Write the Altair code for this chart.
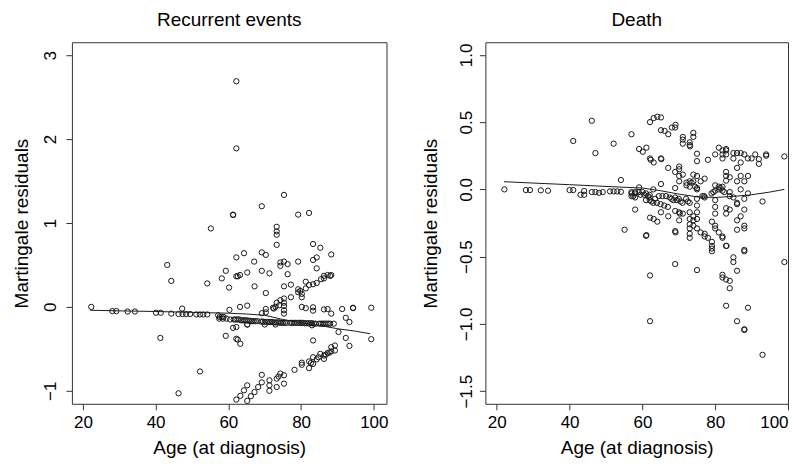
import altair as alt
import pandas as pd

FONT = "Liberation Sans"

# ---------------- Recurrent events panel ----------------
rec_iso_age = [22.3, 28.1, 29.2, 32.3, 34.3, 40.1, 41.4, 41.3, 43.2, 44.3, 44.3, 46.3, 47.4, 48.4, 49.5, 47.3, 46.3,
               51.2, 52.2, 53.1, 54.2, 52.2, 54.2, 55.2,
               57.2, 57.6, 58.2, 58.7, 58.2, 59.3, 59.3, 60.2, 60.3, 61.3, 61.3, 61.3,
               62.2, 62.2, 62.2, 62.2, 62.6, 62.2, 62.2, 62.6, 63.3, 63.2, 63.2, 64.3, 65.2, 65.2, 65.2,
               67.1, 67.2, 69.2, 69.2, 69.2, 70.3, 70.3, 71.3, 73.3, 73.3, 73.3, 73.3, 74.3, 74.3, 75.3, 75.3, 75.3,
               76.3, 76.3, 77.2, 79.2, 79.2, 82.2, 83.3, 83.3, 84.3, 84.3, 85.3, 88.3, 90.3, 91.3, 92.3, 92.3,
               93.3, 93.3, 94.3, 94.3, 99.3, 99.3]
rec_iso_res = [0.0, -0.05, -0.05, -0.055, -0.055, -0.07, -0.07, -0.37, 0.50, 0.31, -0.08, -0.085, -0.085, -0.085, -0.085, -0.02, -1.03,
               -0.09, -0.09, -0.09, -0.09, -0.77, 0.28, 0.935,
               -0.10, -0.12, -0.12, -0.12, 0.34, 0.43, -0.345, 0.23, -0.035, 1.10, 1.095, -0.25,
               2.69, 1.89, 0.59, 0.365, 0.365, -0.24, -0.38, -0.39, -0.44, 0.0, 0.38, 0.64, 0.41, 0.015, -0.21,
               0.54, 0.245, 1.20, 0.65, 0.43, 0.62, 0.165, 0.40, 0.955, 0.90, 0.86, 0.74, 0.53, 0.49, 1.335, 0.54, 0.245,
               0.51, 0.39, 0.265, 1.10, 0.54, 1.12, 0.75, 0.56, 0.59, 0.46, 0.705, 0.625, -0.30, -0.025, -0.37, -0.13,
               -0.465, -0.18, -0.015, -0.01, -0.01, -0.385]

rec_up_age = [72.3, 73.3, 74.3, 75.3, 75.3, 75.3, 75.3, 75.3, 77.2, 79.2, 79.2, 80.2, 80.2, 81.3, 81.3, 82.2, 83.3,
              84.3, 86.3, 86.3, 87.3, 88.3, 88.0, 70.3, 70.3, 69.2, 80.2, 81.3, 83.3, 83.3, 86.3, 87.3, 88.3,
              72.5, 73.0, 74.0, 79.8, 85.5]
rec_up_res = [-0.01, 0.05, 0.08, 0.10, 0.05, 0.01, -0.04, -0.08, 0.115, 0.175, 0.21, 0.155, 0.115, 0.30, 0.22, 0.26, 0.27,
              0.285, 0.34, 0.37, 0.38, 0.38, 0.37, -0.025, -0.065, -0.075, 0.0, -0.015, -0.005, -0.045, -0.03, -0.025, -0.08,
              -0.02, 0.0, 0.02, 0.19, 0.33]

rec_band_age = [57.5, 58.5, 59.5, 60.5, 61.5, 62.0, 62.5, 63.0, 63.5, 64.0, 64.5, 65.0, 65.5, 66.0, 66.5, 67.0, 67.5,
                68.0, 69.0, 69.5, 70.0, 70.5, 71.0, 71.5, 72.0, 72.5, 73.0, 73.5, 74.0, 74.5, 75.0, 75.5, 76.0, 77.0,
                77.5, 78.0, 78.5, 79.0, 79.5, 80.0, 80.5, 81.0, 81.5, 82.0, 82.5, 83.0, 83.5, 84.0, 85.0, 85.5, 86.0,
                86.5, 87.0, 87.5, 88.0, 89.0, 65.2, 70.0, 73.0, 83.0]
rec_band_res = [-0.14, -0.14, -0.14, -0.15, -0.15, -0.15, -0.15, -0.15, -0.16, -0.16, -0.16, -0.16, -0.165, -0.165,
                -0.17, -0.17, -0.17, -0.17, -0.175, -0.175, -0.18, -0.18, -0.18, -0.18, -0.18, -0.185, -0.185, -0.185,
                -0.185, -0.19, -0.19, -0.19, -0.19, -0.19, -0.19, -0.19, -0.19, -0.19, -0.19, -0.19, -0.19, -0.195,
                -0.195, -0.195, -0.195, -0.195, -0.2, -0.2, -0.2, -0.2, -0.2, -0.2, -0.2, -0.2, -0.2, -0.2, -0.21,
                -0.21, -0.21, -0.22]

rec_low_age = [62.2, 63.3, 64.3, 65.2, 65.2, 66.2, 67.2, 68.2, 69.2, 69.2, 71.3, 71.3, 71.3, 73.3, 73.3, 74.3, 75.3,
               75.3, 78.2, 80.2, 80.2, 82.2, 82.2, 83.3, 83.3, 84.3, 85.3, 86.3, 86.3, 87.3, 88.3, 88.3, 89.3, 89.3,
               83.3, 73.8, 82.7, 84.8, 86.8, 87.8]
rec_low_res = [-1.105, -1.06, -0.995, -0.935, -1.12, -1.065, -1.015, -0.955, -0.90, -0.81, -0.935, -1.0, -0.875,
               -0.955, -0.855, -0.795, -0.815, -0.915, -0.75, -0.69, -0.665, -0.73, -0.65, -0.68, -0.60, -0.625,
               -0.56, -0.62, -0.58, -0.55, -0.53, -0.48, -0.52, -0.46, -0.40, -0.83, -0.67, -0.6, -0.57, -0.545]

rec_smooth_age = [22, 30, 40, 50, 60, 65, 70, 75, 80, 85, 90, 95, 99]
rec_smooth_res = [-0.04, -0.047, -0.055, -0.065, -0.075, -0.085, -0.10, -0.15, -0.19, -0.22, -0.26, -0.29, -0.32]

# ---------------- Death panel ----------------
d_iso_age = [22.1, 28.0, 29.1, 32.1, 34.1, 40.0, 41.0, 41.0, 43.0, 44.0, 44.0, 46.1, 47.1, 46.1, 47.1, 48.1, 49.1,
             51.1, 52.1, 53.1, 54.1, 52.1, 54.1, 55.1, 57.0, 57.0, 57.0, 58.0, 58.0, 58.0, 59.1, 60.1, 61.1, 59.1,
             61.1, 61.0]
d_iso_res = [0.0, -0.005, -0.005, -0.007, -0.01, -0.005, -0.005, 0.36, -0.04, -0.012, -0.04, 0.51, 0.27, -0.02,
             -0.02, -0.025, -0.02, -0.015, -0.015, -0.015, -0.018, 0.34, 0.07, -0.30, 0.41, -0.02, -0.05, -0.06,
             -0.03, -0.15, 0.30, 0.28, 0.31, 0.015, -0.34, -0.345]

d_mid_age = [62.1, 63.1, 64.1, 65.1, 62.1, 62.3, 63.1, 65.1, 66.1, 67.1, 65.1, 65.2, 62.1, 62.1, 62.1, 63.1, 64.1,
             65.1, 67.1, 67.1, 65.1, 68.1, 69.0, 69.1, 69.0, 70.1, 70.1, 70.1, 70.1, 69.0, 69.0, 70.1, 70.3, 71.1,
             69.0, 69.1, 69.0, 70.1, 71.1, 71.1, 71.1, 71.1, 73.0, 73.0, 73.1, 74.0, 74.0, 72.1, 72.1, 73.0, 73.0,
             74.0, 75.0, 73.0, 73.0, 73.0, 73.0, 73.0, 73.0, 73.0, 74.0, 74.0, 74.0, 75.0, 75.0, 75.0, 75.0, 75.0,
             75.0, 75.0, 75.0, 75.0, 75.0, 76.0, 76.0, 77.1, 77.1, 78.0, 77.1, 77.1, 78.0]
d_mid_res = [0.50, 0.53, 0.54, 0.535, 0.23, 0.22, 0.20, 0.44, 0.435, 0.41, 0.23, 0.225, -0.64, -0.98, -0.21, -0.22,
             -0.24, -0.17, -0.20, 0.16, 0.04, 0.46, 0.46, 0.48, 0.13, 0.17, 0.15, 0.10, 0.06, 0.01, -0.16, -0.17,
             -0.18, -0.18, -0.31, -0.32, -0.555, -0.23, 0.39, 0.37, 0.34, 0.11, 0.35, 0.33, 0.32, 0.42, 0.39, 0.05,
             0.03, 0.06, 0.02, 0.11, 0.10, -0.10, -0.17, -0.22, -0.26, -0.29, -0.33, -0.36, -0.20, -0.23, -0.27,
             -0.12, -0.17, -0.22, -0.29, 0.265, 0.21, 0.0, 0.01, -0.07, -0.60, 0.06, -0.32, -0.33, -0.35, -0.36,
             0.08, -0.06, 0.22]

d_old_age = [79.1, 79.1, 79.1, 79.1, 79.1, 80.0, 80.0, 80.0, 80.0, 80.0, 80.0, 80.0, 80.0, 81.0, 82.0, 82.0, 82.0,
             81.0, 82.0, 82.0, 81.0, 82.0, 82.0, 82.0, 82.0, 83.0, 84.0, 84.0, 83.0, 83.0, 83.0, 83.0, 83.0, 83.0,
             83.0, 83.0, 84.0, 83.0, 83.1, 83.0, 84.0, 84.0, 85.0, 86.0, 87.0, 88.0, 89.0, 90.0, 91.0, 92.0, 92.0,
             94.0, 94.0, 99.0, 85.0, 86.0, 87.0, 85.0, 85.0, 85.0, 86.0, 87.0, 88.0, 89.0, 86.0, 86.0, 87.0, 86.0,
             86.0, 86.0, 86.0, 87.0, 88.0, 88.0, 88.0, 88.0, 88.0, 88.0, 88.0, 88.0, 89.0, 89.0, 93.0, 93.0, 99.0]
d_old_res = [-0.24, -0.39, -0.42, -0.44, -0.46, 0.26, 0.03, -0.01, -0.08, -0.13, -0.18, -0.27, -0.29, 0.31, 0.29,
             0.23, 0.26, 0.02, 0.02, -0.01, -0.32, -0.35, -0.36, -0.635, -0.655, -0.67, -0.68, -0.735, 0.30, 0.29,
             0.26, 0.13, 0.10, 0.065, -0.14, -0.18, -0.15, -0.42, -0.42, -0.865, 0.09, -0.02, 0.27, 0.27, 0.27,
             0.26, 0.23, 0.23, 0.26, 0.225, 0.19, 0.26, 0.25, 0.245, 0.23, 0.16, 0.20, -0.06, -0.505, -0.54, 0.06,
             0.10, 0.06, 0.10, -0.10, -0.11, 0.0, -0.23, -0.30, -0.605, -0.98, -0.20, -0.07, -0.15, -0.27, -0.29,
             -0.45, -0.46, -1.04, -1.045, -0.03, -0.88, -0.09, -1.23, -0.54]

d_band_age = [57.0, 57.5, 58.0, 59.0, 59.5, 60.0, 60.5, 61.0, 61.0, 61.5, 62.0, 62.0, 62.0, 62.5, 63.0, 63.0, 63.5,
              64.0, 64.5, 65.0, 65.5, 66.0, 66.5, 67.0, 67.5, 68.0, 68.5, 69.0, 69.5, 70.0, 70.5, 71.0, 72.0, 72.5,
              73.5, 74.0, 74.5, 76.5, 77.0, 79.0, 79.5, 81.0, 81.5, 82.5, 84.0]
d_band_res = [-0.03, -0.05, -0.02, -0.02, -0.04, -0.02, -0.04, -0.03, -0.08, -0.05, -0.04, -0.06, -0.08, -0.09,
              0.0, -0.10, -0.07, -0.10, -0.05, -0.11, -0.05, -0.12, -0.05, -0.13, -0.06, -0.07, -0.08, -0.06, -0.08,
              -0.07, -0.09, -0.10, -0.07, -0.09, 0.05, 0.06, 0.02, -0.05, -0.05, -0.03, -0.02, 0.0, 0.01, -0.02, -0.05]

d_smooth_age = [22, 30, 40, 50, 60, 65, 70, 75, 80, 85, 90, 95, 99]
d_smooth_res = [0.057, 0.047, 0.035, 0.022, 0.01, -0.01, -0.035, -0.055, -0.06, -0.052, -0.04, -0.02, 0.0]

x_ticks = [20, 40, 60, 80, 100]
rec_y_ticks = [-1, 0, 1, 2, 3]
d_y_ticks = [-1.5, -1.0, -0.5, 0.0, 0.5, 1.0]

rec_pts = pd.DataFrame({"age": rec_iso_age + rec_up_age + rec_band_age + rec_low_age,
                        "res": rec_iso_res + rec_up_res + rec_band_res + rec_low_res})
rec_line = pd.DataFrame({"age": rec_smooth_age, "res": rec_smooth_res})
d_pts = pd.DataFrame({"age": d_iso_age + d_mid_age + d_old_age + d_band_age,
                      "res": d_iso_res + d_mid_res + d_old_res + d_band_res})
d_line = pd.DataFrame({"age": d_smooth_age, "res": d_smooth_res})

INK = "#1a1a1a"


def panel(pts, line, title, xdom, ydom, yticks, yfmt, width, title_x, lab_pad, flush):
    xenc = alt.X("age:Q", scale=alt.Scale(domain=xdom, nice=False, zero=False),
                 axis=alt.Axis(values=x_ticks, format="d", title="Age (at diagnosis)",
                               titleY=50, titleBaseline="alphabetic", labelPadding=5,
                               labelFlush=flush))
    yenc = alt.Y("res:Q", scale=alt.Scale(domain=ydom, nice=False, zero=False),
                 axis=alt.Axis(values=yticks, format=yfmt, title="Martingale residuals",
                               labelAngle=-90, labelAlign="center", labelBaseline="alphabetic",
                               labelPadding=lab_pad, titleX=title_x, titleY=181,
                               titleBaseline="alphabetic", titleAngle=-90))
    p = alt.Chart(pts).mark_point(shape="circle", filled=False, size=28, strokeWidth=1.0,
                                  color=INK, opacity=1).encode(x=xenc, y=yenc)
    l = alt.Chart(line).mark_line(color=INK, strokeWidth=1).encode(x="age:Q", y="res:Q")
    return alt.layer(p, l).properties(
        width=width, height=362,
        title=alt.TitleParams(title, fontSize=19, font=FONT, fontWeight="normal", color="black",
                              baseline="alphabetic", offset=-3, anchor="middle", frame="group"))


left = panel(rec_pts, rec_line, "Recurrent events", [16.98, 103.5], [-1.155, 3.155],
             rec_y_ticks, "d", 315, -44, 10, False)
right = panel(d_pts, d_line, "Death", [16.87, 100.0], [-1.594, 1.094],
              d_y_ticks, ".1f", 303, -49, 8, True)

chart = alt.hconcat(left, right, spacing=99, bounds="flush").properties(
    padding={"left": 4, "top": 2, "right": 0, "bottom": 0},
    background="white"
).configure_view(stroke="#333333", strokeWidth=1).configure_axis(
    domain=False, grid=False, ticks=True, tickSize=6, tickColor="#333333", tickWidth=1,
    labelFont=FONT, labelFontSize=17, labelColor="black", labelFlush=False, labelOverlap=False,
    titleFont=FONT, titleFontSize=19, titleFontWeight="normal", titleColor="black"
)

chart.save("out.html", embed_options={"renderer": "svg", "actions": False})
